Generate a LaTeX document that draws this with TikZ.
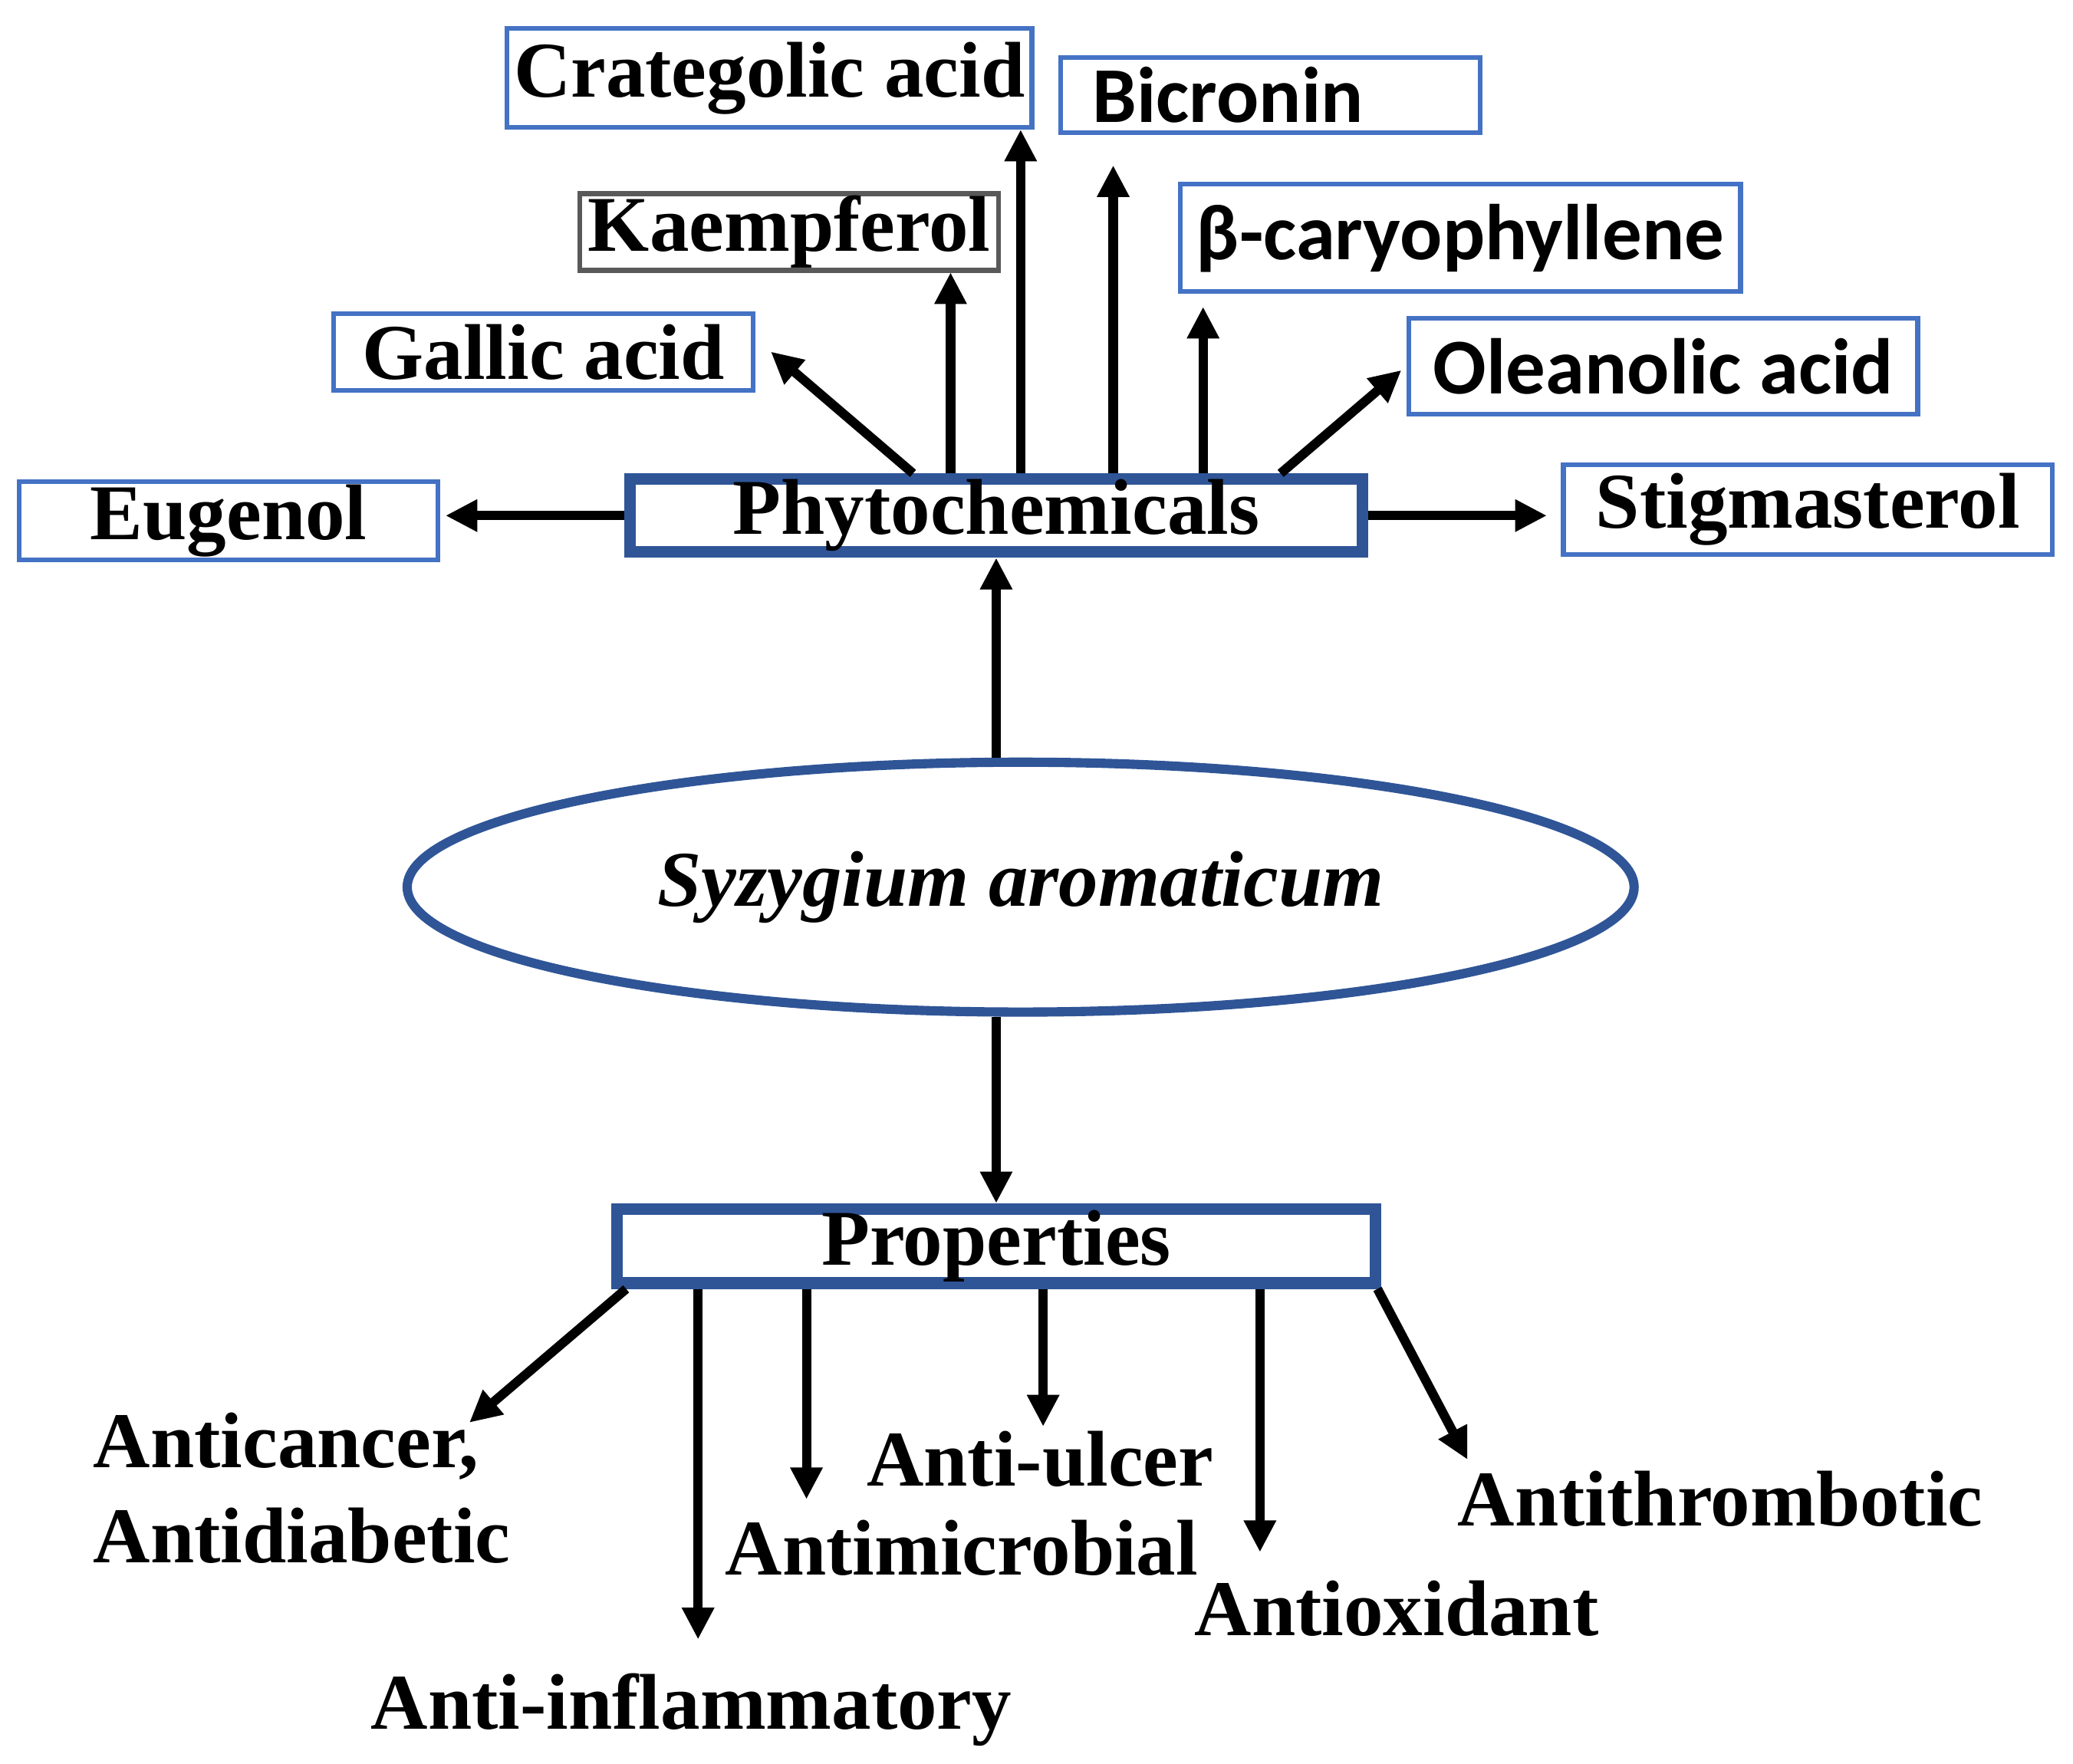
\documentclass[tikz,border=0pt]{standalone}
\usepackage{fontspec}
\setmainfont{Liberation Serif}
\newfontfamily\calibri{Carlito}
\usetikzlibrary{arrows.meta,shapes.geometric}
\definecolor{sapphire}{RGB}{47, 85, 151}
\definecolor{cornflower}{RGB}{68, 114, 196}
\definecolor{graphite}{RGB}{89, 89, 89}

\begin{document}
\begin{tikzpicture}[
        font=\fontsize{17}{20.5}\selectfont\bfseries,
        chembox/.style={draw=cornflower, line width=1pt, inner sep=0pt},
        mainbox/.style={draw=sapphire, line width=2.5pt, inner sep=0pt},
        effect/.style={inner sep=0pt, anchor=base west},
        arrow/.style={-{Triangle[length=0.24cm, width=0.23cm]}, line width=2pt}
    ]
            \useasboundingbox (0.00, 0.00) rectangle (15.68, 13.34);
            % compounds
            \node[chembox, minimum width=3.97cm, minimum height=0.75cm]                  (crat)   at ( 5.82,12.75) {Crategolic acid};
            \node[chembox, minimum width=3.17cm, minimum height=0.57cm,
                  text width=2.69cm, align=left, font=\calibri\bfseries\fontsize{17}{20.5}\selectfont] (bicr) at ( 9.61,12.62) {Bicronin};
            \node[chembox, draw=graphite, minimum width=3.17cm, minimum height=0.58cm]  (kaemp)  at ( 5.97,11.585) {Kaempferol};
            \node[chembox, minimum width=4.24cm, minimum height=0.81cm, font=\calibri\bfseries\fontsize{17}{20.5}\selectfont]
                                                                                          (beta)   at (11.045,11.54) {β-caryophyllene};
            \node[chembox, minimum width=3.17cm, minimum height=0.58cm]                  (gallic) at ( 4.11,10.675) {Gallic acid};
            \node[chembox, minimum width=3.85cm, minimum height=0.73cm, font=\calibri\bfseries\fontsize{17}{20.5}\selectfont]
                                                                                          (olean)  at (12.58,10.57) {Oleanolic acid};
            \node[chembox, minimum width=3.17cm, minimum height=0.59cm]                  (eug)    at ( 1.73, 9.40) {Eugenol};
            \node[mainbox, minimum width=5.54cm, minimum height=0.55cm]                  (phyto)  at ( 7.535, 9.44) {Phytochemicals};
            \node[chembox, minimum width=3.70cm, minimum height=0.68cm]                  (stig)   at (13.675, 9.485) {Stigmasterol};
            % plant and properties
            \node[ellipse, draw=sapphire, line width=2pt, minimum width=9.28cm, minimum height=1.89cm, inner sep=0pt,
                  font=\fontsize{17}{20.5}\selectfont\bfseries\itshape]                 (syz)    at ( 7.72, 6.63) {Syzygium aromaticum};
            \node[mainbox, minimum width=5.74cm, minimum height=0.56cm]                  (props)  at ( 7.535, 3.915) {Properties};
            % effects
            \node[inner sep=0pt, anchor=north west, align=left]                          (cancer) at ( 0.70, 2.66) {Anticancer,\\Antidiabetic};
            \node[effect]                                                                 (inflam) at ( 2.80, 0.26) {Anti-inflammatory};
            \node[effect]                                                                 (micro)  at ( 5.48, 1.425) {Antimicrobial};
            \node[effect]                                                                 (ulcer)  at ( 6.55, 2.10) {Anti-ulcer};
            \node[effect]                                                                 (oxid)   at ( 9.03, 0.97) {Antioxidant};
            \node[effect]                                                                 (thromb) at (11.02, 1.80) {Antithrombotic};
            % arrow ends
            \coordinate (tgallic) at ( 5.83,10.68);
            \coordinate (tkaemp)  at ( 7.19,11.28);
            \coordinate (tcrat)   at ( 7.72,12.36);
            \coordinate (tbicr)   at ( 8.42,12.09);
            \coordinate (tbeta)   at ( 9.10,11.02);
            \coordinate (tolean)  at (10.60,10.54);
            \coordinate (teug)    at ( 3.37, 9.44);
            \coordinate (tstig)   at (11.70, 9.44);
            \coordinate (tcancer) at ( 3.55, 2.58);
            \coordinate (tinflam) at ( 5.28, 0.94);
            \coordinate (tmicro)  at ( 6.10, 2.00);
            \coordinate (tulcer)  at ( 7.89, 2.55);
            \coordinate (toxid)   at ( 9.53, 1.60);
            \coordinate (tthromb) at (11.10, 2.30);
            % arrows
            \draw[arrow] (syz.north -| phyto.south)          -- (phyto.south);
            \draw[arrow] (syz.south -| props.north)          -- (props.north);
            \draw[arrow] (phyto.west)                        -- (teug);
            \draw[arrow] (phyto.east)                        -- (tstig);
            \draw[arrow] ([xshift=2.185cm]phyto.north west)  -- (tgallic);
            \draw[arrow] (phyto.north -| tkaemp)             -- (tkaemp);
            \draw[arrow] (phyto.north -| tcrat)              -- (tcrat);
            \draw[arrow] (phyto.north -| tbicr)              -- (tbicr);
            \draw[arrow] (phyto.north -| tbeta)              -- (tbeta);
            \draw[arrow] ([xshift=4.965cm]phyto.north west)  -- (tolean);
            \draw[arrow] ([xshift=0.115cm]props.south west)  -- (tcancer);
            \draw[arrow] (props.south -| tinflam)            -- (tinflam);
            \draw[arrow] (props.south -| tmicro)             -- (tmicro);
            \draw[arrow] (props.south -| tulcer)             -- (tulcer);
            \draw[arrow] (props.south -| toxid)              -- (toxid);
            \draw[arrow] ([xshift=-0.03cm]props.south east)  -- (tthromb);
        \end{tikzpicture}
\end{document}
